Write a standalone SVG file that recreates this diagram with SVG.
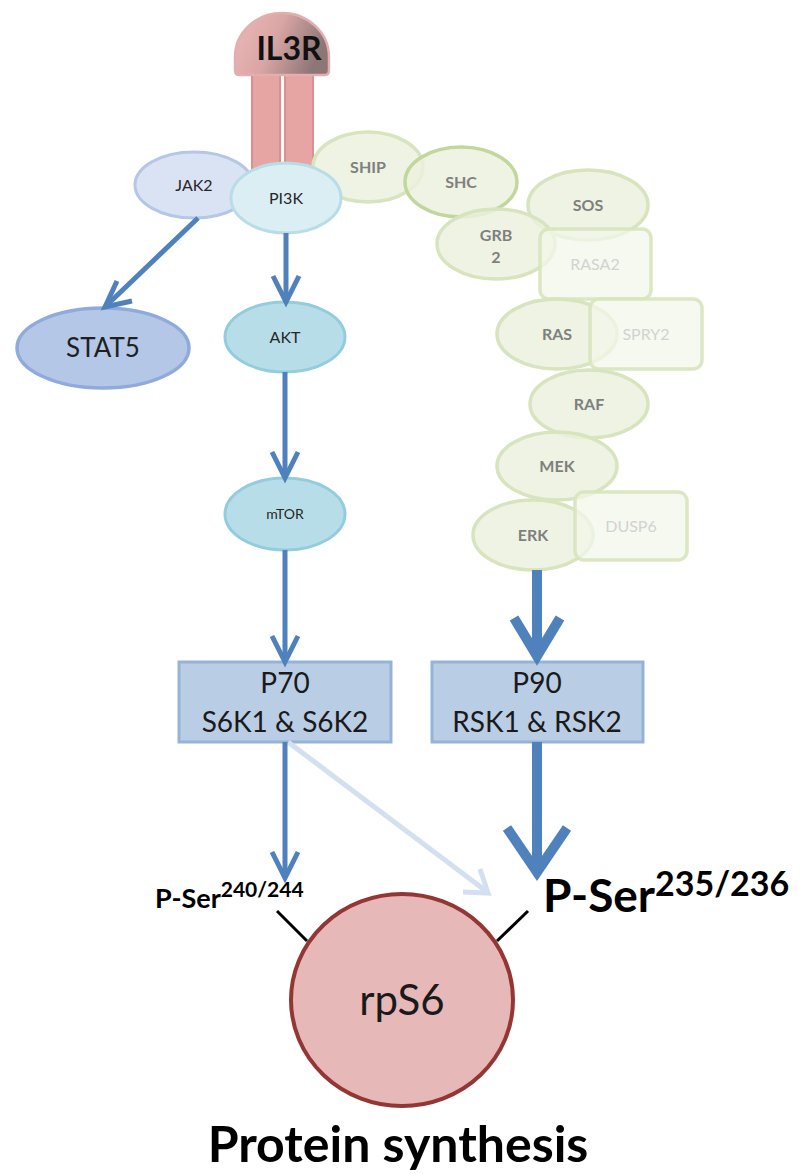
<svg xmlns="http://www.w3.org/2000/svg" width="804" height="1174" viewBox="0 0 804 1174">
<defs>
<linearGradient id="domeGrad" x1="0" y1="0" x2="1" y2="0.3">
<stop offset="0" stop-color="#ecb9b8"/>
<stop offset="0.5" stop-color="#d9a6a5"/>
<stop offset="1" stop-color="#8e7676"/>
</linearGradient>
<style>
text{font-family:Lato,"Open Sans","Liberation Sans",sans-serif;text-anchor:middle}
.pillar{fill:#e6a5a3;stroke:#d9908e;stroke-width:2}
.blue1{fill:#dae3f3;stroke:#b4c7e7;stroke-width:3}
.cyan1{fill:#dbeef4;stroke:#b7dde8;stroke-width:3}
.cyan2{fill:#b7dee8;stroke:#93cddd;stroke-width:3}
.stat{fill:#b4c7e7;stroke:#8faadc;stroke-width:3.5}
.green{fill:#ebf1de;fill-opacity:0.85;stroke:#d7e4bd;stroke-width:3.5}
.green2{fill:#ebf1de;fill-opacity:0.85;stroke:#c3d69b;stroke-width:3.5}
.inh{fill:#f2f7e9;fill-opacity:0.75;stroke:#d7e4bd;stroke-width:3.5;stroke-opacity:0.9}
.gt{fill:#7f7f7f;font-weight:bold;font-size:16px}
.it{fill:#d2d2d2;font-size:16px}
.dt{fill:#262626;font-size:16px}
.box{fill:#b9cde5;stroke:#95b3d7;stroke-width:3}
.bt{fill:#1a1a1a;font-size:28px}
.arr{fill:none;stroke:#4f81bd;stroke-width:5;stroke-linecap:butt;stroke-linejoin:miter}
.arrT{fill:none;stroke:#4f81bd;stroke-width:10;stroke-linejoin:miter}
.arrL{fill:none;stroke:#d3e0f0;stroke-width:5}
.blk{stroke:#000;stroke-width:3}
.lab{text-anchor:start;font-weight:bold;fill:#000}
</style>
</defs>
<rect width="804" height="1174" fill="#ffffff"/>

<g id="IL3R">
<rect class="pillar" x="252" y="70" width="28" height="100"/>
<rect class="pillar" x="285" y="70" width="28" height="100"/>
<path d="M239,75 Q235,75 235,70 L235,57 A47,44 0 0 1 329,57 L329,70 Q329,75 325,75 Z" fill="url(#domeGrad)" stroke="#e3aeae" stroke-width="2.5"/>
<text x="289" y="60" style="font-size:32px;font-weight:bold;fill:#111">IL3R</text>
</g>

<g id="JAK2"><ellipse class="blue1" cx="194" cy="185" rx="59" ry="33"/><text class="dt" x="194" y="191">JAK2</text></g>

<g id="SHIP"><ellipse class="green" cx="368" cy="167" rx="55" ry="35"/><text class="gt" x="368" y="173">SHIP</text></g>
<g id="PI3K"><ellipse class="cyan1" cx="286" cy="198" rx="55" ry="35"/><text class="dt" x="286" y="204">PI3K</text></g>
<g id="SHC"><ellipse class="green2" cx="461" cy="182" rx="56" ry="35"/><text class="gt" x="461" y="188">SHC</text></g>
<g id="SOS"><ellipse class="green" cx="588" cy="205" rx="60" ry="35"/><text class="gt" x="588" y="211">SOS</text></g>
<g id="GRB2"><ellipse class="green" cx="496" cy="244" rx="59" ry="35"/><text class="gt" x="496" y="241">GRB</text><text class="gt" x="496" y="263">2</text></g>
<g id="RASA2"><rect class="inh" x="540" y="229" width="111" height="70" rx="9"/><text class="it" x="595" y="270">RASA2</text></g>
<g id="RAS"><ellipse class="green" cx="557" cy="334" rx="60" ry="35"/><text class="gt" x="557" y="340">RAS</text></g>
<g id="SPRY2"><rect class="inh" x="590" y="299" width="112" height="70" rx="9"/><text class="it" x="646" y="340">SPRY2</text></g>
<g id="RAF"><ellipse class="green" cx="589" cy="404" rx="59" ry="34"/><text class="gt" x="589" y="410">RAF</text></g>
<g id="MEK"><ellipse class="green" cx="557" cy="466" rx="60" ry="34"/><text class="gt" x="557" y="472">MEK</text></g>
<g id="ERK"><ellipse class="green" cx="533" cy="535" rx="60" ry="35"/><text class="gt" x="533" y="541">ERK</text></g>
<g id="DUSP6"><rect class="inh" x="575" y="492" width="112" height="68" rx="9"/><text class="it" x="631" y="532">DUSP6</text></g>

<g id="STAT5"><ellipse class="stat" cx="103" cy="348" rx="86" ry="40"/><text x="103" y="357" style="font-size:26px;fill:#1f1f1f">STAT5</text></g>
<g id="AKT"><ellipse class="cyan2" cx="285" cy="337" rx="60" ry="35"/><text class="dt" x="285" y="343">AKT</text></g>
<g id="mTOR"><ellipse class="cyan2" cx="285" cy="514" rx="60" ry="36"/><text class="dt" x="285" y="519" style="font-size:14px">mTOR</text></g>

<g id="P70"><rect class="box" x="179" y="662" width="212" height="80"/><text class="bt" x="285" y="693">P70</text><text class="bt" x="285" y="732">S6K1 &amp; S6K2</text></g>
<g id="P90"><rect class="box" x="432" y="662" width="211" height="80"/><text class="bt" x="537" y="693">P90</text><text class="bt" x="537" y="732">RSK1 &amp; RSK2</text></g>

<g id="connectors">
<line class="arrL" x1="288" y1="742" x2="486" y2="891"/>
<polyline class="arrL" points="463,892 488,893 480,869"/>
<line class="arr" x1="198" y1="218" x2="107" y2="305"/>
<polyline class="arr" points="117,281 105,307 132,301"/>
<line class="arr" x1="286" y1="233" x2="286" y2="300"/>
<polyline class="arr" points="273,276 286,302 299,276"/>
<line class="arr" x1="285" y1="372" x2="285" y2="476"/>
<polyline class="arr" points="272,452 285,478 298,452"/>
<line class="arr" x1="285" y1="550" x2="285" y2="660"/>
<polyline class="arr" points="272,636 285,662 298,636"/>
<line class="arr" x1="285" y1="742" x2="285" y2="876"/>
<polyline class="arr" points="272,852 285,878 298,852"/>
<line class="arrT" x1="537" y1="570" x2="537" y2="655"/>
<polyline class="arrT" points="514,618 537,656 560,618"/>
<line class="arrT" x1="537" y1="742" x2="537" y2="868"/>
<polyline class="arrT" points="507,828 537,872 567,828"/>
<line class="blk" x1="277" y1="911" x2="307" y2="941"/>
<line class="blk" x1="528" y1="911" x2="497" y2="941"/>
</g>

<g id="rpS6"><ellipse cx="402" cy="1000" rx="111" ry="106" fill="#e6b9b8" stroke="#943634" stroke-width="4"/><text x="402" y="1015" style="font-size:42px;fill:#1a1a1a">rpS6</text></g>

<g id="labels">
<text class="lab" x="155" y="908" style="font-size:27px">P-Ser<tspan dy="-11" style="font-size:21px">240/244</tspan></text>
<text class="lab" x="543" y="912" style="font-size:46px">P-Ser<tspan dy="-16" style="font-size:34px">235/236</tspan></text>
<text x="398" y="1162" style="font-weight:bold;font-size:50px;fill:#000">Protein synthesis</text>
</g>
</svg>
